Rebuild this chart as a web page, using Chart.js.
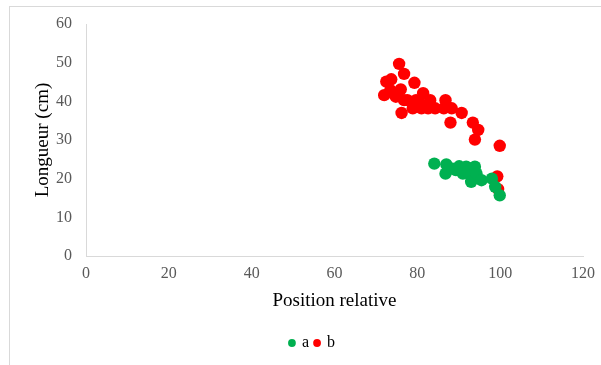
<!DOCTYPE html>
<html>
<head>
<meta charset="utf-8">
<script src="https://cdn.jsdelivr.net/npm/chart.js@4"></script>
<style>
  html, body { margin: 0; padding: 0; background: #fff; }
  #cadre { position: absolute; left: 9px; top: 6px; width: 600px; height: 370px;
           border-left: 1px solid #d9d9d9; border-top: 1px solid #d9d9d9; }
  #zone { position: absolute; left: 0; top: 0; width: 601px; height: 365px; }
</style>
</head>
<body>
<div id="cadre"></div>
<div id="zone"><canvas id="graphique" width="601" height="365"></canvas></div>
<script>
// série a (vert)
const pos_a = [84.1, 87.0, 86.8, 88.5, 89.3, 90.1, 91.8, 91.0, 92.2, 93.9, 93.0, 93.0, 94.3, 95.5, 98.0, 98.8, 99.9];
const lon_a = [23.9, 23.7, 21.3, 22.6, 22.2, 23.2, 23.1, 21.3, 21.8, 23.1, 20.9, 19.2, 21.3, 19.6, 20.0, 17.9, 15.7];
// série b (rouge)
const pos_b = [75.6, 76.8, 79.3, 72.5, 73.7, 72.0, 73.5, 76.0, 74.8, 76.8, 77.6, 76.2, 81.4, 79.7, 78.9, 80.6, 81.0, 83.1, 82.6, 84.3, 86.8, 86.4, 88.3, 88.0, 90.7, 93.4, 94.7, 93.9, 99.9, 99.3, 99.5];
const lon_b = [49.7, 47.1, 44.8, 45.1, 45.7, 41.6, 42.9, 43.1, 41.2, 40.3, 40.3, 37.0, 42.1, 40.3, 38.2, 39.5, 38.2, 40.3, 38.2, 38.2, 40.3, 38.2, 38.2, 34.5, 37.0, 34.5, 32.6, 30.1, 28.5, 20.6, 17.3];

const couleur_a = '#00b050';
const couleur_b = '#ff0000';

function points(xs, ys) {
    return xs.map((x, i) => ({ x: x, y: ys[i] }));
}

const police = 'Liberation Serif, Times New Roman, serif';

// la légende est un peu à droite du centre dans l'original
const decalageLegende = {
    id: 'decalageLegende',
    afterLayout(chart) {
    chart.legend.left += 18;
    chart.legend.right += 18;
    }
};

const ctx = document.getElementById('graphique').getContext('2d');
const graphique = new Chart(ctx, {
    type: 'scatter',
    data: {
    datasets: [{
        label: 'a',
        data: points(pos_a, lon_a),
        backgroundColor: couleur_a,
        borderColor: couleur_a,
        borderWidth: 0,
        pointRadius: 6.2,
        pointHoverRadius: 6.2
    }, {
        label: 'b',
        data: points(pos_b, lon_b),
        backgroundColor: couleur_b,
        borderColor: couleur_b,
        borderWidth: 0,
        pointRadius: 6.2,
        pointHoverRadius: 6.2
    }]
    },
    options: {
    responsive: false,
    animation: false,
    layout: { padding: { left: 6, right: 18, top: 24, bottom: 4 } },
    scales: {
        x: {
        min: 0, max: 120,
        afterFit: (axe) => { axe.paddingRight = 0; axe.paddingLeft = 0; },
        ticks: { stepSize: 20, color: '#595959', font: { family: police, size: 16, lineHeight: 1 }, padding: 10 },
        grid: { display: false, drawTicks: false },
        border: { display: true, color: '#d9d9d9' },
        title: { display: true, text: 'Position relative', color: '#000', font: { family: police, size: 19, lineHeight: 1 }, padding: { top: 0, bottom: 18 } }
        },
        y: {
        min: 0, max: 60,
        afterFit: (axe) => { axe.width = 80; },
        ticks: { stepSize: 10, color: '#595959', font: { family: police, size: 16 }, padding: 14 },
        grid: { display: false, drawTicks: false },
        border: { display: true, color: '#d9d9d9' },
        title: { display: true, text: 'Longueur (cm)', color: '#000', font: { family: police, size: 19 }, padding: { top: 26, bottom: 0 } }
        }
    },
    plugins: {
        legend: {
        position: 'bottom',
        labels: {
            usePointStyle: true,
            pointStyle: 'circle',
            boxWidth: 4,
            boxHeight: 5.5,
            padding: 6,
            color: '#000',
            font: { family: police, size: 16 }
        }
        },
        tooltip: { enabled: false }
    }
    },
    plugins: [decalageLegende]
});
</script>
</body>
</html>
